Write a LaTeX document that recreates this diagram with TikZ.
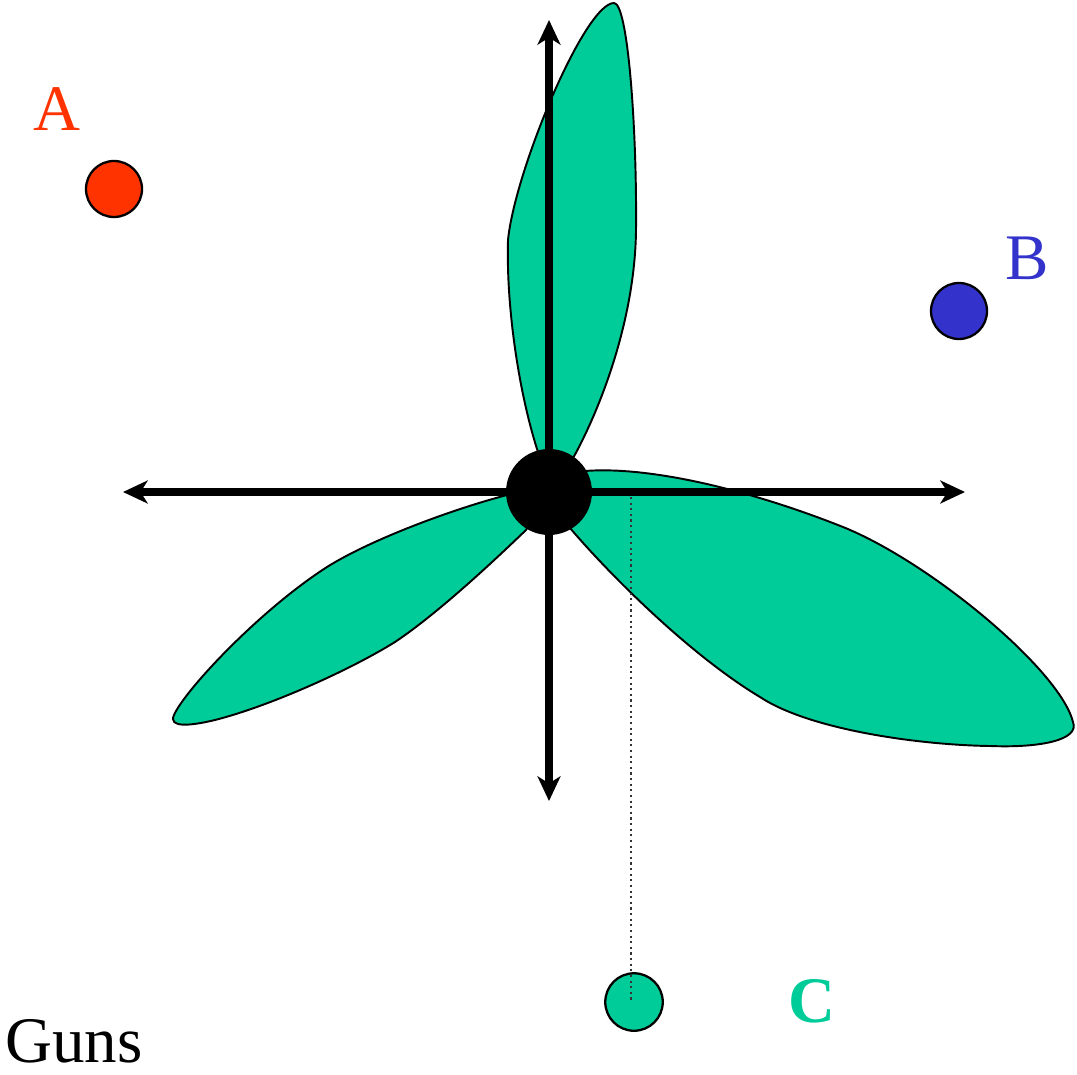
\documentclass[tikz,border=0pt]{standalone}
\usepackage{fontspec}
\setmainfont{Liberation Serif}
\usetikzlibrary{arrows.meta}
\definecolor{petalgreen}{RGB}{0,204,153}
\definecolor{ared}{RGB}{255,51,0}
\definecolor{bblue}{RGB}{51,51,204}
\tikzset{
  petal/.style={fill=petalgreen, draw=black, line width=1.1pt, line join=round},
  axis/.style={line width=4.3pt, {Stealth[length=14pt,width=13pt,inset=4pt]}-{Stealth[length=14pt,width=13pt,inset=4pt]}},
  dot/.style={circle, draw=black, line width=1.3pt, inner sep=0pt},
  lbl/.style={anchor=base, inner sep=0pt, font=\fontsize{37}{40}\selectfont},
}
\begin{document}
\begin{tikzpicture}[x=0.02cm,y=-0.02cm]
\useasboundingbox (0,0) rectangle (1077,1074);
% petals
\draw[petal] (549,492) -- (540,458) .. controls (520,400) and (506,310) .. (508,240)
  .. controls (515,170) and (585,3) .. (614,3)
  .. controls (628,3) and (637,130) .. (636,230)
  .. controls (635,320) and (600,410) .. (572,460) -- cycle;
\draw[petal] (549,492) -- (585,471) .. controls (650,466) and (750,490) .. (843,527)
  .. controls (930,562) and (1060,670) .. (1073,722)
  .. controls (1080,740) and (1040,748) .. (990,746)
  .. controls (920,745) and (810,730) .. (760,697)
  .. controls (690,655) and (610,575) .. (570,528) -- cycle;
\draw[petal] (549,492) -- (507,495) .. controls (450,510) and (370,540) .. (327,567)
  .. controls (260,610) and (185,690) .. (174,715)
  .. controls (168,728) and (190,726) .. (215,720)
  .. controls (270,706) and (350,670) .. (395,642)
  .. controls (440,612) and (500,555) .. (526,530) -- cycle;
% axes
\coordinate (L) at (123,492);
\coordinate (R) at (965,492);
\coordinate (T) at (549,20);
\coordinate (Bt) at (549,801);
\draw[axis] (L) -- (R);
\draw[axis] (T) -- (Bt);
\node[circle, fill=black, minimum size=1.72cm, inner sep=0pt] (hub) at (549,492) {};
% points
\node[dot, fill=ared, minimum size=1.12cm] (A) at (114,189) {};
\node[dot, fill=bblue, minimum size=1.12cm] (B) at (959,311) {};
\node[dot, fill=petalgreen, minimum size=1.15cm] (C) at (634,1002) {};
\coordinate (Ctop) at (631,497);
\coordinate (Cend) at (631,1002);
\draw[line width=1.2pt, dotted, draw=black!80] (Ctop) -- (Cend);
% labels
\node[lbl, text=ared] (la) at (57,131) {A};
\node[lbl, text=bblue] (lb) at (1027,279) {B};
\node[lbl, text=petalgreen, font=\fontsize{37}{40}\selectfont\bfseries] (lc) at (812,1022) {C};
\node[lbl, anchor=base west] (guns) at (5,1062) {Guns};
\end{tikzpicture}
\end{document}
